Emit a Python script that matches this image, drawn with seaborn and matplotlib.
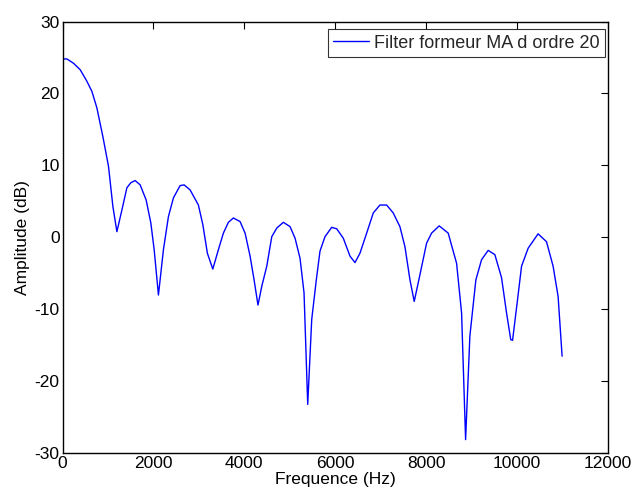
import matplotlib
matplotlib.use("Agg")
import matplotlib.pyplot as plt
import seaborn as sns
import pandas as pd

freq_hz = [0, 97, 242, 389, 536, 646, 756, 888, 1011, 1108, 1196, 1306, 1416, 1503,
           1598, 1708, 1840, 1943, 2016, 2110, 2220, 2330, 2440, 2587, 2675, 2807,
           2989, 3086, 3187, 3306, 3429, 3539, 3649, 3759, 3906, 4016, 4126, 4214,
           4300, 4383, 4493, 4603, 4713, 4858, 5005, 5115, 5225, 5313, 5394, 5482,
           5583, 5664, 5774, 5921, 6031, 6176, 6324, 6434, 6543, 6691, 6836, 6983,
           7130, 7275, 7422, 7533, 7643, 7737, 7862, 8009, 8119, 8286, 8484, 8669,
           8779, 8867, 8961, 9093, 9218, 9364, 9511, 9658, 9768, 9860, 9900, 10001,
           10098, 10243, 10462, 10647, 10792, 10902, 10990]
amplitude_db = [24.8, 24.8, 24.2, 23.3, 21.7, 20.3, 18.0, 14.0, 9.9, 4.3, 0.8, 3.8, 6.9, 7.6,
                7.9, 7.3, 5.2, 2.0, -1.7, -8.0, -1.7, 2.9, 5.5, 7.2, 7.3, 6.6,
                4.5, 1.8, -2.2, -4.4, -1.7, 0.6, 2.1, 2.7, 2.2, 0.6, -2.6, -5.9,
                -9.4, -6.8, -4.0, 0.1, 1.3, 2.1, 1.5, -0.1, -2.9, -7.7, -23.2, -11.4,
                -5.9, -1.9, 0.1, 1.4, 1.2, -0.1, -2.6, -3.5, -2.2, 0.6, 3.4, 4.5,
                4.5, 3.4, 1.5, -1.3, -5.9, -8.9, -5.2, -0.8, 0.6, 1.6, 0.6, -3.6,
                -10.5, -28.1, -13.7, -5.9, -3.1, -1.8, -2.4, -5.6, -10.5, -14.2, -14.3, -9.1,
                -4.0, -1.5, 0.5, -0.6, -4.0, -8.2, -16.5]
series_label = "Filter formeur MA d ordre 20"
x_ticks = [0, 2000, 4000, 6000, 8000, 10000, 12000]
y_ticks = [-30, -20, -10, 0, 10, 20, 30]

df = pd.DataFrame({"Frequence (Hz)": freq_hz, "Amplitude (dB)": amplitude_db})

sns.set_theme(style="white")
plt.rcParams["font.family"] = ["Liberation Sans", "DejaVu Sans"]

fig = plt.figure(figsize=(6.36, 4.97), dpi=100)
ax = fig.add_axes([0.0983, 0.0879, 0.8577, 0.8688])

sns.lineplot(data=df, x="Frequence (Hz)", y="Amplitude (dB)", ax=ax,
             color="#0000ff", linewidth=1.0, estimator=None, sort=False,
             label=series_label)

ax.set_xlim(0, 12000)
ax.set_ylim(-30, 30)
ax.set_xticks(x_ticks)
ax.set_yticks(y_ticks)
ax.set_xticklabels([str(t) for t in x_ticks])
ax.set_yticklabels([str(t) for t in y_ticks])
ax.tick_params(direction="in", length=5, width=0.8, colors="black",
               labelsize=12.5, top=True, right=True, pad=2)
for s in ax.spines.values():
    s.set_color("black")
    s.set_linewidth(1.0)
ax.set_xlabel("Frequence (Hz)", fontsize=12.5, color="black", labelpad=1)
ax.set_ylabel("Amplitude (dB)", fontsize=12.5, color="black", labelpad=3)

leg = ax.legend(loc="upper right", bbox_to_anchor=(0.9945, 0.982),
                fontsize=13, frameon=True, fancybox=False,
                borderaxespad=0.0, handlelength=2.0, borderpad=0.3,
                handletextpad=0.25)
leg.get_frame().set_edgecolor("black")
leg.get_frame().set_linewidth(0.8)

fig.savefig("out.png", dpi=100, facecolor="white")
